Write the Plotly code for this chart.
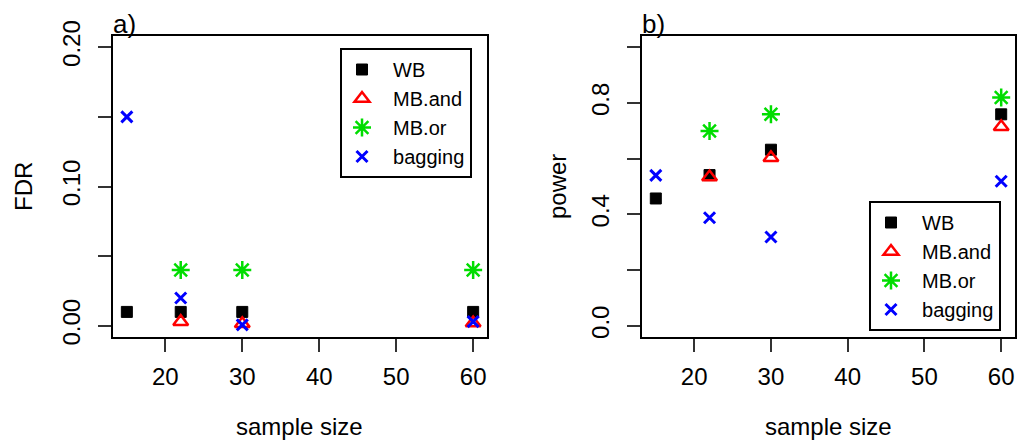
import plotly.graph_objects as go

# ---- data ----
sample_size = [15, 22, 30, 60]
series_names = ["WB", "MB.and", "MB.or", "bagging"]

fdr_WB = [0.010, 0.010, 0.010, 0.010]
fdr_MBand = [None, 0.003, 0.0015, 0.002]
fdr_MBor = [None, 0.040, 0.040, 0.040]
fdr_bagging = [0.150, 0.020, 0.0007, 0.003]

power_WB = [0.457, 0.541, 0.632, 0.759]
power_MBand = [None, 0.534, 0.603, 0.714]
power_MBor = [None, 0.699, 0.759, 0.819]
power_bagging = [0.540, 0.388, 0.319, 0.519]

fdr_ticks = [0.0, 0.05, 0.10, 0.15, 0.20]
fdr_ticklabels = ["0.00", "", "0.10", "", "0.20"]
power_ticks = [0.0, 0.2, 0.4, 0.6, 0.8, 1.0]
power_ticklabels = ["0.0", "", "0.4", "", "0.8", ""]
x_ticks = [20, 30, 40, 50, 60]

FONT = "Liberation Sans, Arial, Helvetica, sans-serif"

styles = {
    "WB": dict(symbol="square", color="black", size=11, line=dict(color="black", width=1)),
    "MB.and": dict(symbol="triangle-up-open", color="#FF0000", size=13, line=dict(color="#FF0000", width=2.5)),
    "MB.or": dict(symbol="asterisk-open", color="#00DD00", size=15, line=dict(color="#00DD00", width=2.5)),
    "bagging": dict(symbol="x-thin-open", color="#0000FF", size=11, line=dict(color="#0000FF", width=3)),
}

PAD = "\u00a0\u00a0"  # small gap between legend symbol and label, as in the original

fig = go.Figure()

panel_a = [fdr_WB, fdr_MBand, fdr_MBor, fdr_bagging]
panel_b = [power_WB, power_MBand, power_MBor, power_bagging]

for name, ys in zip(series_names, panel_a):
    fig.add_trace(go.Scatter(x=sample_size, y=ys, mode="markers", name=PAD + name,
                             marker=styles[name], xaxis="x", yaxis="y",
                             legend="legend", showlegend=True))
for name, ys in zip(series_names, panel_b):
    fig.add_trace(go.Scatter(x=sample_size, y=ys, mode="markers", name=PAD + name,
                             marker=styles[name], xaxis="x2", yaxis="y2",
                             legend="legend2", showlegend=True))

W, H = 1018, 445
ydom = [(H - 337) / H, (H - 36) / H]

axis_common = dict(
    showline=True, mirror=True, linecolor="black", linewidth=2,
    ticks="outside", ticklen=13, tickwidth=1.5, tickcolor="#333333",
    showgrid=False, zeroline=False, automargin=False,
    tickfont=dict(family=FONT, size=24, color="black"),
)

legend_common = dict(
    bordercolor="black", borderwidth=2, bgcolor="white",
    font=dict(family=FONT, size=20, color="black"),
)

fig.update_layout(
    width=W, height=H,
    margin=dict(l=0, r=0, t=0, b=0, autoexpand=False),
    paper_bgcolor="white", plot_bgcolor="white",
    font=dict(family=FONT, color="black"),
    xaxis=dict(domain=[113 / W, 487 / W], range=[13.2, 61.8], tickvals=x_ticks,
               anchor="y", ticklabelstandoff=4, **axis_common),
    yaxis=dict(domain=ydom, range=[-0.008, 0.208], tickvals=fdr_ticks, ticktext=fdr_ticklabels,
               tickangle=-90, anchor="x", ticklabelstandoff=8, **axis_common),
    xaxis2=dict(domain=[642 / W, 1015 / W], range=[13.2, 61.8], tickvals=x_ticks,
                anchor="y2", ticklabelstandoff=4, **axis_common),
    yaxis2=dict(domain=ydom, range=[-0.04, 1.04], tickvals=power_ticks, ticktext=power_ticklabels,
                tickangle=-90, anchor="x2", ticklabelstandoff=8, **axis_common),
    legend=dict(x=340 / W, y=(H - 48) / H, xanchor="left", yanchor="top", **legend_common),
    legend2=dict(x=869 / W, y=(H - 201) / H, xanchor="left", yanchor="top", **legend_common),
)

annots = [
    dict(text="FDR", x=23 / W, y=(H - 187) / H, textangle=-90),
    dict(text="power", x=557 / W, y=(H - 187) / H, textangle=-90),
    dict(text="sample size", x=299 / W, y=(H - 426) / H),
    dict(text="sample size", x=828 / W, y=(H - 426) / H),
]
for a in annots:
    fig.add_annotation(xref="paper", yref="paper", showarrow=False,
                       xanchor="center", yanchor="middle",
                       font=dict(family=FONT, size=24, color="black"), **a)

for lbl, xl in [("a)", 111), ("b)", 640)]:
    fig.add_annotation(text=lbl, xref="paper", yref="paper", x=xl / W, y=(H - 24) / H,
                       xanchor="left", yanchor="middle", showarrow=False,
                       font=dict(family=FONT, size=26, color="black"))

fig.write_html("out.html")
